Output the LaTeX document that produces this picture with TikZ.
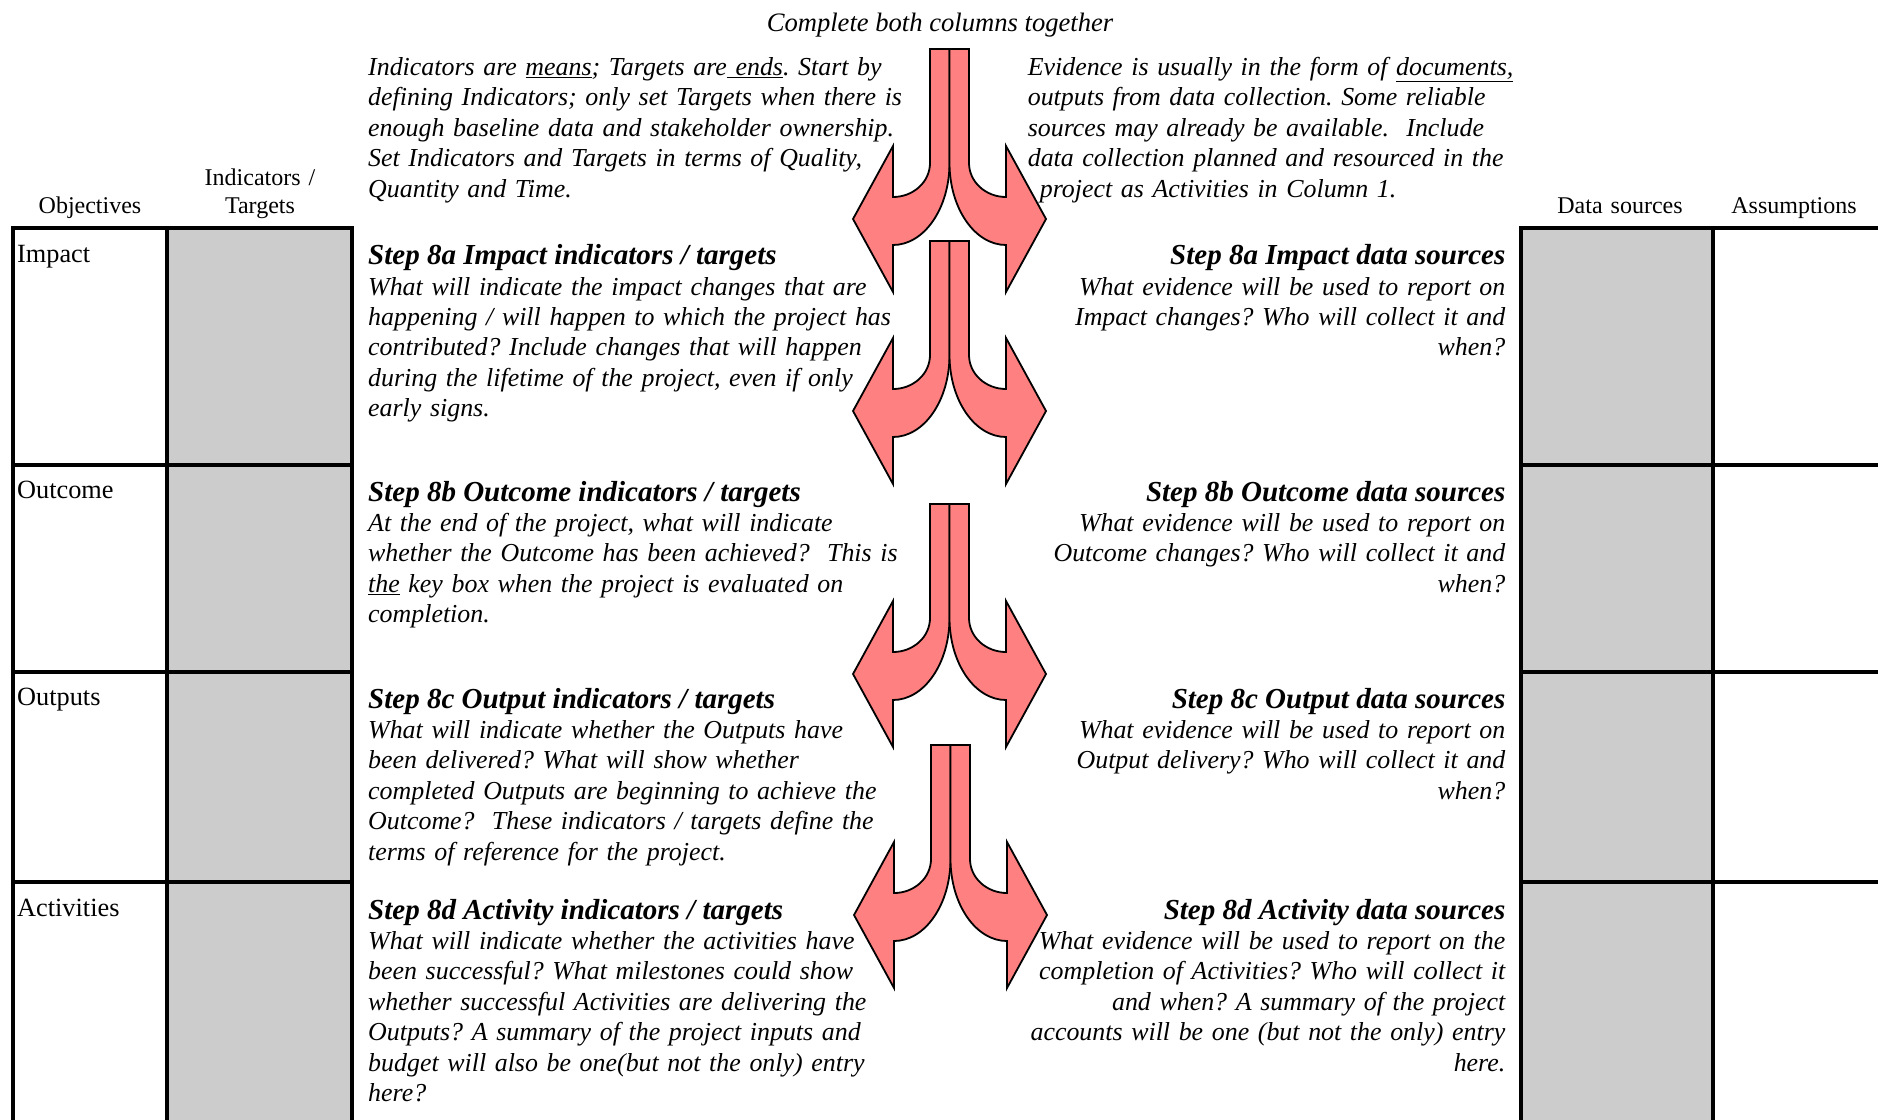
\documentclass[tikz,border=0pt]{standalone}
\usepackage{fontspec}
\setmainfont{Liberation Serif}
\frenchspacing
\definecolor{cellgray}{RGB}{204,204,204}
\definecolor{arrowpink}{RGB}{255,128,128}
\begin{document}
\begin{tikzpicture}[x=1pt,y=-1pt,
  grid/.style={line width=3.6pt, line cap=rect},
  head/.style={font=\fontsize{24}{27.4}\selectfont, inner sep=0pt, text width=200pt, align=center, anchor=base},
  rowlabel/.style={font=\fontsize{26.3}{30}\selectfont, inner sep=0pt, anchor=base west},
  steptitle/.style={font=\fontsize{29}{33}\selectfont\bfseries\itshape, inner sep=0pt},
  stepbody/.style={font=\fontsize{25.9}{30.4}\selectfont\itshape, inner sep=0pt, text width=560pt},
  leftcol/.style={align=left, anchor=base west},
  rightcol/.style={align=right, anchor=base east},
  arrowline/.style={fill=arrowpink, draw=black, line width=1.8pt, line join=miter},
  splitarrow/.pic={
    \foreach \s in {1,-1}{
      \draw[arrowline, xscale=\s] (-19.5,0) -- (0,0) -- (0,114)
        .. controls (0,159.3) and (-25.3,196) .. (-56.5,196)
        -- (-56.5,243) -- (-96.5,170) -- (-56.5,97) -- (-56.5,148)
        .. controls (-36.1,148) and (-19.5,132.8) .. (-19.5,114) -- cycle;
    }
  }
]
\useasboundingbox (0,0) rectangle (1878,1119);

% ---- left table: Objectives / Indicators-Targets ----
\fill[cellgray] (167,228) rectangle (352,1130);
\draw[grid] (13,1130) -- (13,228) -- (352,228) -- (352,1130);
\draw[grid] (167,228) -- (167,1130);
\foreach \yy in {465,672,882} \draw[grid] (13,\yy) -- (352,\yy);

% ---- right table: Data sources / Assumptions ----
\fill[cellgray] (1521,228) rectangle (1713,1130);
\draw[grid] (1521,1130) -- (1521,228) -- (1890,228);
\draw[grid] (1713,228) -- (1713,1130);
\foreach \yy in {465,672,882} \draw[grid] (1521,\yy) -- (1890,\yy);

% ---- column headings ----
\node[head] (hobj) at (90,213) {Objectives};
\node[head] (hind) at (260,185.6) {Indicators /\\Targets};
\node[head] (hsrc) at (1620,213) {Data sources};
\node[head] (hass) at (1794,213) {Assumptions};

% ---- row labels ----
\node[rowlabel] (rimpact) at (17,262) {Impact};
\node[rowlabel] (routcome) at (17,498) {Outcome};
\node[rowlabel] (routputs) at (17,705) {Outputs};
\node[rowlabel] (ractivities) at (17,916.5) {Activities};

% ---- caption and introductory notes ----
\node[font=\fontsize{26.6}{30.4}\selectfont\itshape, inner sep=0pt, anchor=base] (caption) at (940,31) {Complete both columns together};

\node[stepbody, leftcol] (introind) at (368,75.5) {Indicators are \underline{means}; Targets are\underline{\ ends}. Start by\\
defining Indicators; only set Targets when there is\\
enough baseline data and stakeholder ownership.\\
Set Indicators and Targets in terms of Quality,\\
Quantity and Time.};

\node[stepbody, leftcol] (introsrc) at (1027.6,75.5) {Evidence is usually in the form of \underline{documents,}\\
outputs from data collection. Some reliable\\
sources may already be available.\ \ Include\\
data collection planned and resourced in the\\
\hspace*{12pt}project as Activities in Column 1.};

% ---- indicator / target steps ----
\node[steptitle, anchor=base west] (t8a) at (368,264) {Step 8a Impact indicators / targets};
\node[stepbody, leftcol] (b8a) at (368,295) {What will indicate the impact changes that are\\
happening / will happen to which the project has\\
contributed? Include changes that will happen\\
during the lifetime of the project, even if only\\
early signs.};

\node[steptitle, anchor=base west] (t8b) at (368,501) {Step 8b Outcome indicators / targets};
\node[stepbody, leftcol] (b8b) at (368,531.5) {At the end of the project, what will indicate\\
whether the Outcome has been achieved?\ \ This is\\
\underline{the} key box when the project is evaluated on\\
completion.};

\node[steptitle, anchor=base west] (t8c) at (368,708) {Step 8c Output indicators / targets};
\node[stepbody, leftcol] (b8c) at (368,738.4) {What will indicate whether the Outputs have\\
been delivered? What will show whether\\
completed Outputs are beginning to achieve the\\
Outcome?\ \ These indicators / targets define the\\
terms of reference for the project.};

\node[steptitle, anchor=base west] (t8d) at (368,919) {Step 8d Activity indicators / targets};
\node[stepbody, leftcol] (b8d) at (368,949.4) {What will indicate whether the activities have\\
been successful? What milestones could show\\
whether successful Activities are delivering the\\
Outputs? A summary of the project inputs and\\
budget will also be one(but not the only) entry\\
here?};

% ---- data source steps ----
\node[steptitle, anchor=base east] (s8a) at (1505.5,264) {Step 8a Impact data sources};
\node[stepbody, rightcol] (d8a) at (1505.5,295) {What evidence will be used to report on\\
Impact changes? Who will collect it and\\
when?};

\node[steptitle, anchor=base east] (s8b) at (1505.5,501) {Step 8b Outcome data sources};
\node[stepbody, rightcol] (d8b) at (1505.5,531.5) {What evidence will be used to report on\\
Outcome changes? Who will collect it and\\
when?};

\node[steptitle, anchor=base east] (s8c) at (1505.5,708) {Step 8c Output data sources};
\node[stepbody, rightcol] (d8c) at (1505.5,738.4) {What evidence will be used to report on\\
Output delivery? Who will collect it and\\
when?};

\node[steptitle, anchor=base east] (s8d) at (1505.5,919) {Step 8d Activity data sources};
\node[stepbody, rightcol] (d8d) at (1505.5,949.4) {What evidence will be used to report on the\\
completion of Activities? Who will collect it\\
and when? A summary of the project\\
accounts will be one (but not the only) entry\\
here.};

% ---- split arrows between the two columns ----
\pic (arrowa) at (949.5,49) {splitarrow};
\pic (arrowb) at (949.5,241) {splitarrow};
\pic (arrowc) at (949.5,504) {splitarrow};
\pic (arrowd) at (950.5,745) {splitarrow};
\end{tikzpicture}
\end{document}
